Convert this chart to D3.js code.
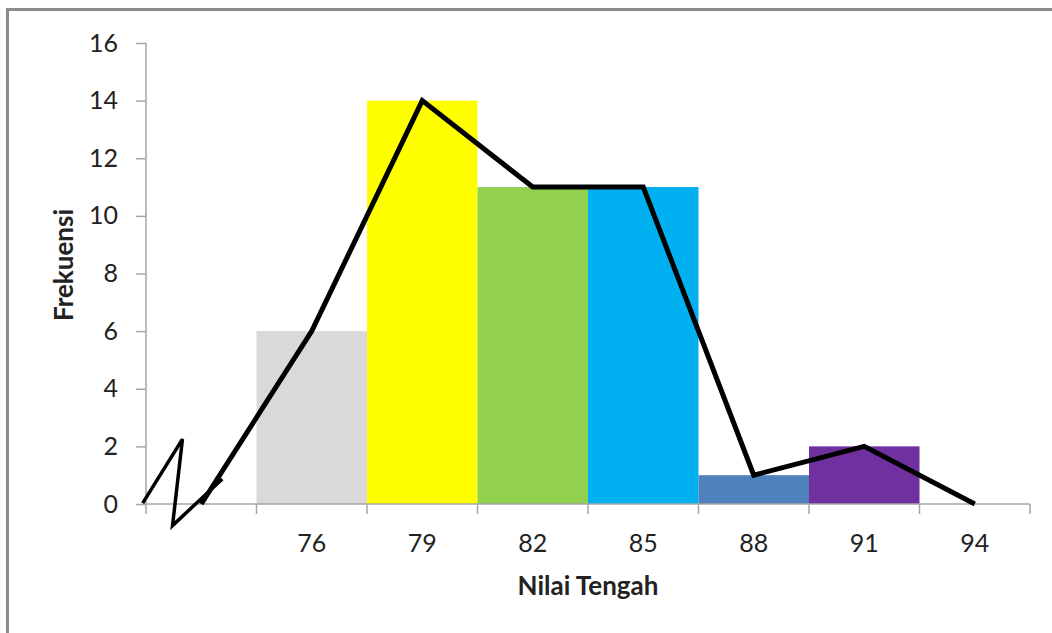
<!DOCTYPE html>
<html>
<head>
<meta charset="utf-8">
<script src="https://cdn.jsdelivr.net/npm/d3@7"></script>
<style>
  html, body { margin: 0; padding: 0; background: #fff; }
  svg { display: block; }
  text { font-family: Lato, "Open Sans", sans-serif; fill: #222; }
</style>
</head>
<body>
<script>
// Data
const categories = ["", "76", "79", "82", "85", "88", "91", "94"];
const barCategories = ["76", "79", "82", "85", "88", "91"];
const barValues = [6, 14, 11, 11, 1, 2];
const barColors = ["#d9d9d9", "#ffff00", "#92d050", "#00b0f0", "#4f81bd", "#7030a0"];
const polygonValues = [0, 6, 14, 11, 11, 1, 2, 0];
const yTicks = [0, 2, 4, 6, 8, 10, 12, 14, 16];
// axis-break zigzag, x as fraction of first band, y in value units
const breakX = [-0.03, 0.33, 0.24, 0.69];
const breakY = [0.03, 2.25, -0.75, 0.87];

const W = 1052, H = 633;
const svg = d3.select("body").append("svg").attr("width", W).attr("height", H);

// frame
svg.append("line").attr("x1", 7.5).attr("x2", 7.5).attr("y1", 8).attr("y2", H)
  .attr("stroke", "#8c8c8c").attr("stroke-width", 3);
svg.append("line").attr("x1", 6).attr("x2", W).attr("y1", 9.5).attr("y2", 9.5)
  .attr("stroke", "#8c8c8c").attr("stroke-width", 3);

const x = d3.scaleBand().domain(categories).range([146, 1030]).padding(0);
const y = d3.scaleLinear().domain([0, 16]).range([504, 43]);

// bars
svg.append("g").selectAll("rect").data(barCategories).join("rect")
  .attr("x", d => x(d))
  .attr("width", x.bandwidth())
  .attr("y", (d, i) => y(barValues[i]))
  .attr("height", (d, i) => y(0) - y(barValues[i]))
  .attr("fill", (d, i) => barColors[i]);

// y axis
const yAxis = svg.append("g").attr("transform", "translate(146,0)")
  .call(d3.axisLeft(y).tickValues(yTicks).tickSize(10).tickPadding(18));
yAxis.select(".domain").attr("stroke", "#a6a6a6").attr("stroke-width", 1.5).attr("d", `M0,${y(16)}V${y(0)}`);
yAxis.selectAll(".tick line").attr("stroke", "#a6a6a6").attr("stroke-width", 1.5);
yAxis.selectAll(".tick text").attr("font-size", 25).style("fill", "#222").attr("font-family", "Lato, sans-serif");

// x axis
const xAxis = svg.append("g").attr("transform", `translate(0,${y(0)})`);
xAxis.append("line").attr("x1", x.range()[0]).attr("x2", x.range()[1])
  .attr("stroke", "#a6a6a6").attr("stroke-width", 1.5);
const boundaries = categories.map(c => x(c)).concat([x.range()[1]]);
xAxis.selectAll(".bt").data(boundaries).join("line").attr("class", "bt")
  .attr("x1", d => d).attr("x2", d => d).attr("y1", 0).attr("y2", 10)
  .attr("stroke", "#a6a6a6").attr("stroke-width", 1.5);
xAxis.selectAll(".lbl").data(categories).join("text").attr("class", "lbl")
  .attr("x", d => x(d) + x.bandwidth() / 2)
  .attr("y", 48)
  .attr("text-anchor", "middle")
  .attr("font-size", 25)
  .text(d => d);

// frequency polygon
const line = d3.line()
  .x((d, i) => x(categories[i]) + x.bandwidth() / 2)
  .y(d => y(d));
svg.append("path").datum(polygonValues)
  .attr("d", line)
  .attr("fill", "none").attr("stroke", "#000").attr("stroke-width", 5)
  .attr("stroke-linejoin", "miter");

// axis break zigzag
const bx = d3.scaleLinear().domain([0, 1]).range([x(categories[0]), x(categories[0]) + x.bandwidth()]);
const zig = d3.line().x((d, i) => bx(breakX[i])).y(d => y(d));
svg.append("path").datum(breakY).attr("d", zig)
  .attr("fill", "none").attr("stroke", "#000").attr("stroke-width", 3.5);

// axis titles
svg.append("text").attr("x", 588).attr("y", 595).attr("text-anchor", "middle")
  .attr("font-size", 26).attr("font-weight", "bold").text("Nilai Tengah");
svg.append("text").attr("transform", "translate(73,265) rotate(-90)")
  .attr("text-anchor", "middle").attr("font-size", 26).attr("font-weight", "bold").text("Frekuensi");
</script>
</body>
</html>
